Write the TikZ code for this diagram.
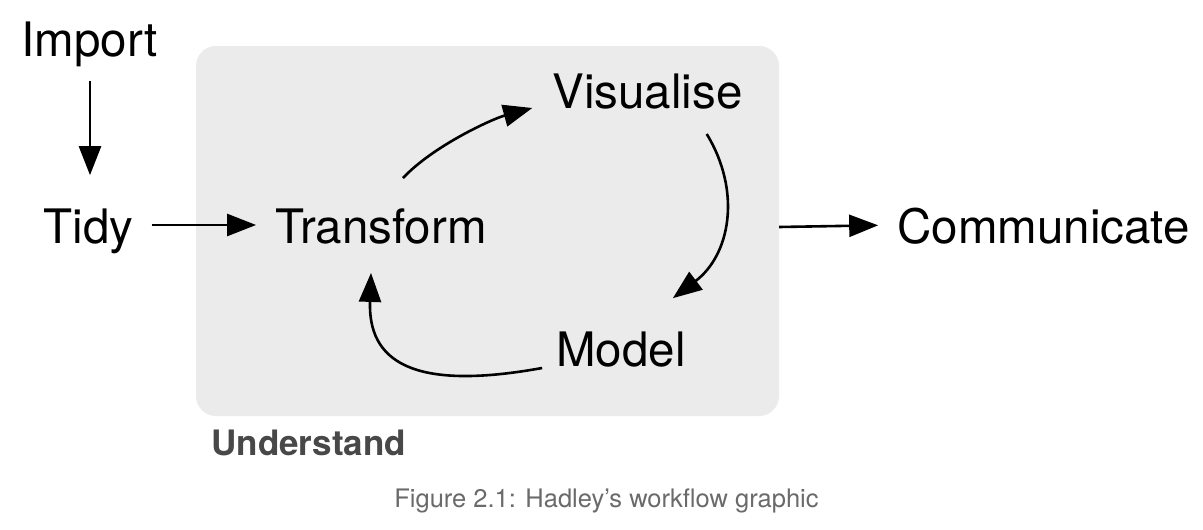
\documentclass[tikz,border=0pt]{standalone}
\usepackage{fontspec}
\setmainfont{TeX Gyre Heros}
\usetikzlibrary{arrows.meta}
\definecolor{boxgray}{HTML}{EBEBEB}
\definecolor{undgray}{HTML}{484848}
\definecolor{capgray}{HTML}{6A6A6A}
\begin{document}
\begin{tikzpicture}[x=1pt,y=-1pt,
  lbl/.style={inner sep=0pt,anchor=base,font=\fontsize{47.5}{50}\selectfont},
  arr/.style={line width=2.6pt,-{Triangle[length=29pt,width=22pt]}}]
\fill[white] (0,0) rectangle (1203,530);
\useasboundingbox (0,0) rectangle (1203,530);
\node[fill=boxgray,rounded corners=20pt,minimum width=583pt,minimum height=370pt,inner sep=0pt] (box) at (487.5,231) {};
\node[lbl] (imp) at (89.5,56) {Import};
\node[lbl] (tidy) at (88.5,243) {Tidy};
\node[lbl] (trans) at (381,243) {Transform};
\node[lbl] (vis) at (647.5,108) {Visualise};
\node[lbl] (model) at (621,366) {Model};
\node[lbl] (comm) at (1043.5,243) {Communicate};
\node[inner sep=0pt,anchor=base west,text=undgray,font=\fontsize{35}{38}\selectfont\bfseries] (und) at (211,455) {Understand};
\node[inner sep=0pt,anchor=base,text=capgray,font=\fontsize{25.5}{28}\selectfont] (cap) at (606.5,507) {Figure 2.1: Hadley’s workflow graphic};
% straight arrows
\draw[arr,shorten <=14pt,shorten >=33pt] ([xshift=0.5pt]imp.south) -- ([xshift=0.5pt]imp.south |- tidy.north);
\draw[arr,shorten <=18pt,shorten >=19pt] ([yshift=18pt]tidy.base east) -- ([yshift=18pt]trans.base west);
\draw[arr,shorten >=19pt] ([yshift=4pt]box.east) -- ([yshift=18pt]comm.base west);
% curved arrows
\draw[arr] ([xshift=22pt,yshift=30pt]trans.north) .. controls (433,146) and (492,119) .. ([xshift=-20pt]vis.base west);
\draw[arr] ([xshift=-36pt,yshift=-26pt]vis.base east) .. controls (742,192) and (730,255) .. ([xshift=-13pt,yshift=33pt]model.north east);
\draw[arr] ([xshift=-14pt,yshift=-2pt]model.base west) .. controls (410,392) and (368,360) .. ([xshift=-10pt,yshift=-29pt]trans.south);
\end{tikzpicture}
\end{document}
